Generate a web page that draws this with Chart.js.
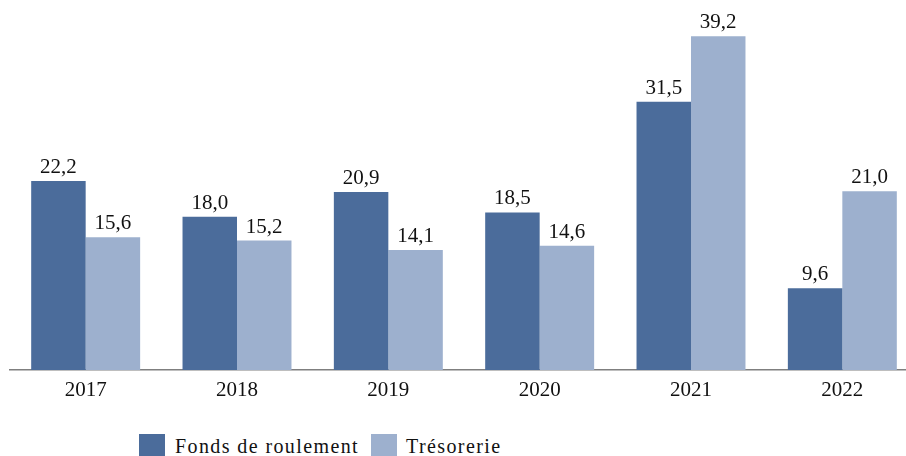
<!DOCTYPE html>
<html>
<head>
<meta charset="utf-8">
<script src="https://cdn.jsdelivr.net/npm/chart.js@4"></script>
<style>
  body { margin: 0; width: 906px; height: 456px; overflow: hidden; background: #fff; position: relative; }
  #wrap { position: absolute; left: 0; top: 0; width: 918px; height: 420px; }
  .leg { position: absolute; font-family: "Liberation Serif", serif; font-size: 20px; line-height: 20px; letter-spacing: 1.4px; color: #111; white-space: nowrap; }
  .box { position: absolute; width: 26px; height: 22px; }
</style>
</head>
<body>
<div id="wrap"><canvas id="chart" width="918" height="420"></canvas></div>
<div class="box" style="left:139px; top:434px; background:#4b6c9b;"></div>
<div class="leg" style="left:175px; top:436px;">Fonds de roulement</div>
<div class="box" style="left:371px; top:434px; background:#9db0ce;"></div>
<div class="leg" style="left:406px; top:436px;">Trésorerie</div>
<script>
// Données : fonds de roulement et trésorerie par année
const annees = ['2017', '2018', '2019', '2020', '2021', '2022'];
const fondsRoulement = [22.2, 18.0, 20.9, 18.5, 31.5, 9.6];
const tresorerie = [15.6, 15.2, 14.1, 14.6, 39.2, 21.0];

const FONT = '"Liberation Serif", serif';

// étiquettes de valeur au-dessus des barres (virgule décimale)
const valueLabels = {
    id: 'valueLabels',
    afterDatasetsDraw(chart) {
        const ctx = chart.ctx;
        ctx.save();
        ctx.font = '21px ' + FONT;
        ctx.fillStyle = '#111';
        ctx.textAlign = 'center';
        ctx.textBaseline = 'alphabetic';
        chart.data.datasets.forEach((ds, i) => {
            chart.getDatasetMeta(i).data.forEach((bar, j) => {
                const txt = ds.data[j].toFixed(1).replace('.', ',');
                ctx.fillText(txt, bar.x, bar.y - 8);
            });
        });
        ctx.restore();
    }
};

new Chart(document.getElementById('chart').getContext('2d'), {
    type: 'bar',
    data: {
        labels: annees,
        datasets: [
            { label: 'Fonds de roulement', data: fondsRoulement, backgroundColor: '#4b6c9b' },
            { label: 'Trésorerie', data: tresorerie, backgroundColor: '#9db0ce' }
        ]
    },
    options: {
        responsive: false,
        animation: false,
        layout: { padding: { left: 10, right: 0, top: 12.4, bottom: 0 } },
        plugins: { legend: { display: false }, tooltip: { enabled: false } },
        datasets: { bar: { categoryPercentage: 0.72, barPercentage: 1 } },
        scales: {
            x: {
                grid: { display: false, drawTicks: false },
                border: { display: true, color: '#7f7f7f', width: 1.5 },
                ticks: { color: '#111', font: { family: FONT, size: 21 }, padding: 8 },
                afterFit(scale) { scale.height = 50; }
            },
            y: { display: false, min: 0, max: 42 }
        }
    },
    plugins: [valueLabels]
});
</script>
</body>
</html>
